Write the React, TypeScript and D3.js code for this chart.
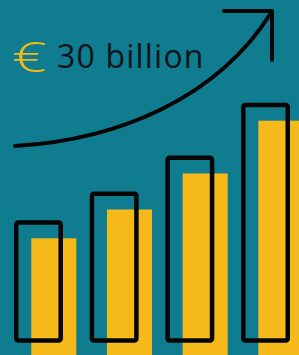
import React, { useRef, useEffect } from 'react';
import * as d3 from 'd3';

const periods = ['1', '2', '3', '4'];
const values = [51, 63, 78, 100];
const label = '30 billion';
const currency = '€';

const W = 299;
const H = 355;

const App: React.FC = () => {
    const ref = useRef<SVGSVGElement>(null);

    useEffect(() => {
        document.body.style.margin = '0';
        if (!ref.current) return;
        const svg = d3.select(ref.current);
        svg.selectAll('*').remove();

        const teal = '#0f7c90';
        const yellow = '#f5b91a';
        const ink = '#050505';

        svg.append('rect').attr('width', W).attr('height', H).attr('fill', teal);

        const x = d3.scaleBand<string>()
            .domain(periods)
            .range([14, 290])
            .paddingInner(0.353)
            .paddingOuter(0);
        const base = 342.7;
        const y = d3.scaleLinear().domain([0, 100]).range([base, 102.7]);

        const sw = 4.5;
        const shiftX = 17.3;
        const shiftY = 18;

        // yellow shadow bars
        svg.append('g')
            .selectAll('rect')
            .data(values)
            .enter()
            .append('rect')
            .attr('x', (d, i) => x(periods[i])! + shiftX)
            .attr('y', d => y(d) + shiftY)
            .attr('width', 45)
            .attr('height', d => H - y(d))
            .attr('fill', yellow);

        // outlined bars
        svg.append('g')
            .selectAll('rect')
            .data(values)
            .enter()
            .append('rect')
            .attr('x', (d, i) => x(periods[i])! + sw / 2)
            .attr('y', d => y(d) + sw / 2)
            .attr('width', x.bandwidth() - sw)
            .attr('height', d => base - y(d) - sw)
            .attr('rx', 2)
            .attr('fill', 'none')
            .attr('stroke', ink)
            .attr('stroke-width', sw);

        // growth arrow
        const path = d3.path();
        path.moveTo(15, 146);
        path.bezierCurveTo(120, 140, 218, 97, 271, 13);
        svg.append('path')
            .attr('d', path.toString())
            .attr('fill', 'none')
            .attr('stroke', ink)
            .attr('stroke-width', 4)
            .attr('stroke-linecap', 'round');

        const head = d3.line()([[224, 11], [272, 11], [272, 60]]);
        svg.append('path')
            .attr('d', head!)
            .attr('fill', 'none')
            .attr('stroke', ink)
            .attr('stroke-width', 4)
            .attr('stroke-linecap', 'round')
            .attr('stroke-linejoin', 'round');

        svg.append('text')
            .attr('transform', 'translate(12,72) scale(1.45,1.02)')
            .attr('font-family', 'Open Sans')
            .attr('font-size', 42)
            .attr('font-weight', 300)
            .attr('fill', yellow)
            .text(currency);

        svg.append('text')
            .attr('x', 57)
            .attr('y', 68)
            .attr('font-family', 'Open Sans')
            .attr('font-size', 32)
            .attr('letter-spacing', 1.2)
            .attr('fill', '#0a1418')
            .text(label);
    }, []);

    return <svg ref={ref} width={W} height={H} style={{ display: 'block' }}></svg>;
};

export default App;
